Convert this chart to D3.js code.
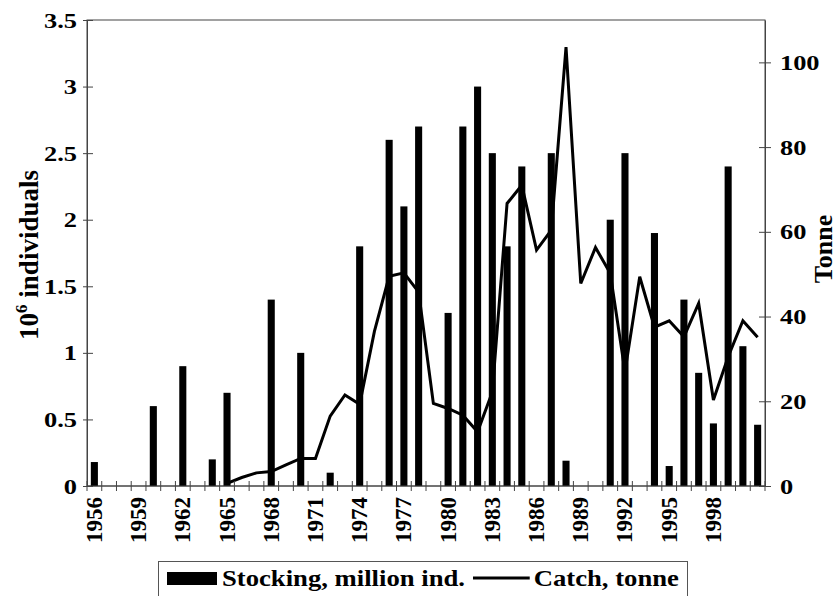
<!DOCTYPE html>
<html>
<head>
<meta charset="utf-8">
<script src="https://cdn.jsdelivr.net/npm/d3@7"></script>
<style>
  html, body { margin: 0; padding: 0; background: #fff; }
  svg { display: block; }
  text { font-family: "Liberation Serif", "Times New Roman", serif; font-weight: bold; fill: #000; }
</style>
</head>
<body>
<svg id="chart" width="840" height="596"></svg>
<script>
// ---- data ----
const years = [1956,1957,1958,1959,1960,1961,1962,1963,1964,1965,1966,1967,1968,1969,1970,
  1971,1972,1973,1974,1975,1976,1977,1978,1979,1980,1981,1982,1983,1984,1985,1986,1987,
  1988,1989,1990,1991,1992,1993,1994,1995,1996,1997,1998,1999,2000,2001];
const stocking = [0.18,0,0,0,0.6,0,0.9,0,0.2,0.7,0,0,1.4,0,1.0,
  0,0.1,0,1.8,0,2.6,2.1,2.7,0,1.3,2.7,3.0,2.5,1.8,2.4,0,2.5,
  0.19,0,0,2.0,2.5,0,1.9,0.15,1.4,0.85,0.47,2.4,1.05,0.46];
const catchT = [null,null,null,null,null,null,null,null,null,0.6,2.0,3.1,3.4,5.0,6.5,
  6.5,16.5,21.5,19.3,36.5,49.5,50.3,45.8,19.5,18.3,16.7,12.8,22.2,66.7,71,55.7,60.4,
  103.6,47.8,56.3,50.2,27,49.4,37.5,39,35.2,43.1,20.3,30.5,39,35.1];
const xTickLabels = [1956,1959,1962,1965,1968,1971,1974,1977,1980,1983,1986,1989,1992,1995,1998];
const leftTicks = [0,0.5,1,1.5,2,2.5,3,3.5];
const rightTicks = [0,20,40,60,80,100];
const leftTitle = "individuals";
const rightTitle = "Tonne";
const legendLabels = ["Stocking, million ind.", "Catch, tonne"];

// ---- layout ----
const W = 840, H = 596;
const m = {left: 87, right: 75, top: 20, bottom: 110};
const iw = W - m.left - m.right, ih = H - m.top - m.bottom;
const sx = 1.2; // horizontal widening of horizontal labels
const svg = d3.select("#chart");
const g = svg.append("g").attr("transform", `translate(${m.left},${m.top})`);

const x = d3.scaleBand().domain(years).range([0, iw]).padding(0);
const xBar = d3.scaleBand().domain(years).range([0, iw]).paddingInner(0.52).paddingOuter(0.26);
const yL = d3.scaleLinear().domain([0, 3.5]).range([ih, 0]);
const yR = d3.scaleLinear().domain([0, 110]).range([ih, 0]);

// frame
g.append("rect").attr("x", 0).attr("y", 0).attr("width", iw).attr("height", ih)
  .attr("fill", "none").attr("stroke", "#444").attr("stroke-width", 1);

// bars
g.selectAll("rect.bar").data(years.map((yr, i) => ({yr, v: stocking[i]})).filter(d => d.v > 0))
  .join("rect").attr("class", "bar")
  .attr("x", d => xBar(d.yr)).attr("width", xBar.bandwidth())
  .attr("y", d => yL(d.v)).attr("height", d => ih - yL(d.v))
  .attr("fill", "#000");

// line
const line = d3.line()
  .defined(d => d.v !== null)
  .x(d => x(d.yr) + x.bandwidth() / 2)
  .y(d => yR(d.v));
g.append("path").datum(years.map((yr, i) => ({yr, v: catchT[i]})))
  .attr("d", line).attr("fill", "none").attr("stroke", "#000")
  .attr("stroke-width", 3).attr("stroke-linejoin", "miter");

// x axis ticks at band boundaries
const boundaries = years.map(yr => x(yr)).concat([iw]);
g.selectAll("line.xt").data(boundaries).join("line").attr("class", "xt")
  .attr("x1", d => d).attr("x2", d => d).attr("y1", ih - 5).attr("y2", ih + 5)
  .attr("stroke", "#444").attr("stroke-width", 1);
g.append("line").attr("x1", 0).attr("x2", iw).attr("y1", ih).attr("y2", ih)
  .attr("stroke", "#444");
g.selectAll("text.xl").data(xTickLabels).join("text").attr("class", "xl")
  .attr("transform", d => `translate(${x(d) + x.bandwidth() / 2 + 7.5},${ih + 11}) rotate(-90)`)
  .attr("text-anchor", "end").attr("font-size", 23).text(d => d);

// left axis
const axL = d3.axisLeft(yL).tickValues(leftTicks).tickSize(0).tickPadding(10)
  .tickFormat(d => d3.format("")(d));
const gl = g.append("g").call(axL);
gl.select(".domain").attr("stroke", "#444");
gl.selectAll(".tick text").attr("font-size", 22).attr("font-family", "Liberation Serif")
  .attr("font-weight", "bold").attr("fill", "#000")
  .attr("x", -10 / sx).attr("transform", `scale(${sx},1)`);
gl.selectAll(".tick").append("line").attr("x1", -4).attr("x2", 6).attr("stroke", "#444");

// right axis
const axR = d3.axisRight(yR).tickValues(rightTicks).tickSize(0).tickPadding(15);
const gr = g.append("g").attr("transform", `translate(${iw},0)`).call(axR);
gr.select(".domain").attr("stroke", "#444");
gr.selectAll(".tick text").attr("font-size", 22).attr("font-family", "Liberation Serif")
  .attr("font-weight", "bold").attr("fill", "#000")
  .attr("x", 15 / sx).attr("transform", `scale(${sx},1)`);
gr.selectAll(".tick").append("line").attr("x1", -6).attr("x2", 6).attr("stroke", "#444");

// axis titles
const lt = svg.append("text")
  .attr("transform", `translate(38,255) rotate(-90)`)
  .attr("text-anchor", "middle").attr("font-size", 27);
lt.append("tspan").text("10");
lt.append("tspan").attr("dy", -11).attr("font-size", 17).text("6");
lt.append("tspan").attr("dy", 11).text(" " + leftTitle);

svg.append("text")
  .attr("transform", `translate(832,249) rotate(-90)`)
  .attr("text-anchor", "middle").attr("font-size", 26).text(rightTitle);

// legend
const lg = svg.append("g");
lg.append("rect").attr("x", 158.5).attr("y", 561.5).attr("width", 529).attr("height", 50)
  .attr("fill", "#fff").attr("stroke", "#555").attr("stroke-width", 1);
lg.append("rect").attr("x", 167).attr("y", 572).attr("width", 50).attr("height", 13).attr("fill", "#000");
const t1 = lg.append("text").attr("font-size", 23)
  .attr("transform", `translate(222,586) scale(1.16,1)`).text(legendLabels[0]);
const w1 = t1.node().getComputedTextLength() * 1.16;
const lineX1 = 222 + w1 + 8;
const t2 = lg.append("text").attr("font-size", 23).text(legendLabels[1]);
const w2 = t2.node().getComputedTextLength() * 1.16;
const t2x = 679 - w2;
t2.attr("transform", `translate(${t2x},586) scale(1.16,1)`);
lg.append("line").attr("x1", lineX1).attr("x2", t2x - 4).attr("y1", 578).attr("y2", 578)
  .attr("stroke", "#000").attr("stroke-width", 3);
</script>
</body>
</html>
